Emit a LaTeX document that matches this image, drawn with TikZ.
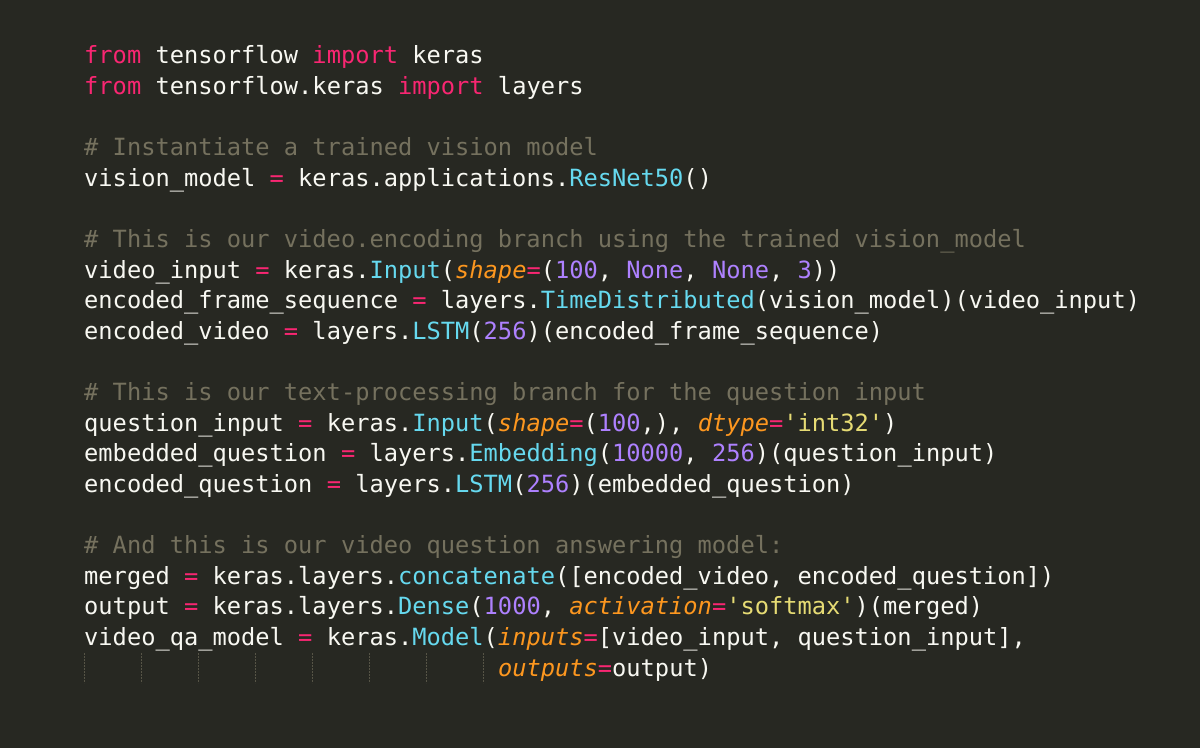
\documentclass[tikz,border=0pt]{standalone}
\usepackage{fontspec}
\newfontfamily\code{DejaVu Sans Mono}
\definecolor{bg}{HTML}{272822}
\definecolor{fg}{HTML}{F8F8F2}
\definecolor{kw}{HTML}{F92672}
\definecolor{cm}{HTML}{75715E}
\definecolor{fn}{HTML}{66D9EF}
\definecolor{nm}{HTML}{AE81FF}
\definecolor{ar}{HTML}{FD971F}
\definecolor{st}{HTML}{E6DB74}
\newcommand{\K}[1]{\textcolor{kw}{#1}}
\newcommand{\C}[1]{\textcolor{cm}{#1}}
\newcommand{\F}[1]{\textcolor{fn}{#1}}
\newcommand{\N}[1]{\textcolor{nm}{#1}}
\newcommand{\A}[1]{\textcolor{ar}{\itshape #1}}
\newcommand{\St}[1]{\textcolor{st}{#1}}
\begin{document}
\begin{tikzpicture}[x=1bp,y=-1bp,
  ln/.style={anchor=base west,inner sep=0pt,text=fg,font=\code\fontsize{23.7bp}{28bp}\selectfont}]
\fill[bg] (0,0) rectangle (1200,748);
\useasboundingbox (0,0) rectangle (1200,748);
\def\Y#1{64+30.6*#1}
\node[ln] (l0) at (84,{\Y{0}}) {\K{from} tensorflow \K{import} keras};
\node[ln] (l1) at (84,{\Y{1}}) {\K{from} tensorflow.keras \K{import} layers};
\node[ln] (l3) at (84,{\Y{3}}) {\C{\# Instantiate a trained vision model}};
\node[ln] (l4) at (84,{\Y{4}}) {vision\_model \K{=} keras.applications.\F{ResNet50}()};
\node[ln] (l6) at (84,{\Y{6}}) {\C{\# This is our video.encoding branch using the trained vision\_model}};
\node[ln] (l7) at (84,{\Y{7}}) {video\_input \K{=} keras.\F{Input}(\A{shape}\K{=}(\N{100}, \N{None}, \N{None}, \N{3}))};
\node[ln] (l8) at (84,{\Y{8}}) {encoded\_frame\_sequence \K{=} layers.\F{TimeDistributed}(vision\_model)(video\_input)};
\node[ln] (l9) at (84,{\Y{9}}) {encoded\_video \K{=} layers.\F{LSTM}(\N{256})(encoded\_frame\_sequence)};
\node[ln] (l11) at (84,{\Y{11}}) {\C{\# This is our text-processing branch for the question input}};
\node[ln] (l12) at (84,{\Y{12}}) {question\_input \K{=} keras.\F{Input}(\A{shape}\K{=}(\N{100},), \A{dtype}\K{=}\St{'int32'})};
\node[ln] (l13) at (84,{\Y{13}}) {embedded\_question \K{=} layers.\F{Embedding}(\N{10000}, \N{256})(question\_input)};
\node[ln] (l14) at (84,{\Y{14}}) {encoded\_question \K{=} layers.\F{LSTM}(\N{256})(embedded\_question)};
\node[ln] (l16) at (84,{\Y{16}}) {\C{\# And this is our video question answering model:}};
\node[ln] (l17) at (84,{\Y{17}}) {merged \K{=} keras.layers.\F{concatenate}([encoded\_video, encoded\_question])};
\node[ln] (l18) at (84,{\Y{18}}) {output \K{=} keras.layers.\F{Dense}(\N{1000}, \A{activation}\K{=}\St{'softmax'})(merged)};
\node[ln] (l19) at (84,{\Y{19}}) {video\_qa\_model \K{=} keras.\F{Model}(\A{inputs}\K{=}[video\_input, question\_input],};
\node[ln] (l20) at ({84+29*14.27},{\Y{20}}) {\A{outputs}\K{=}output)};
\foreach \i in {0,...,7}
  \draw[cm!60!bg,line width=0.8bp,dash pattern=on 1.5bp off 1.5bp] ({84+\i*57.08},653) -- ({84+\i*57.08},683);
\end{tikzpicture}
\end{document}
